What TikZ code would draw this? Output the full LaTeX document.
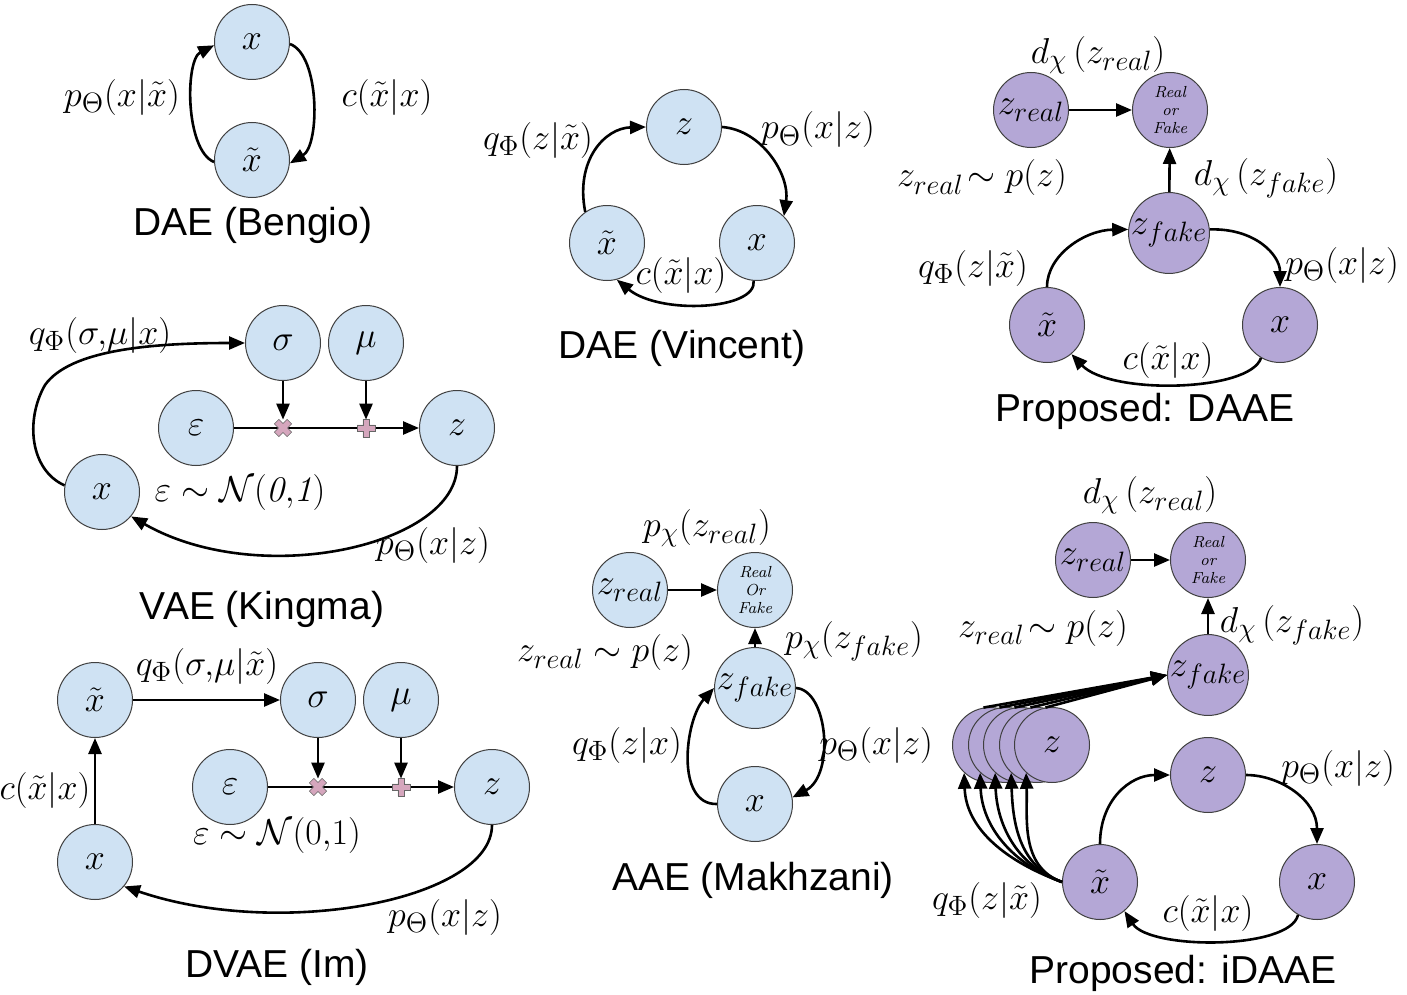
\RequirePackage{fix-cm}
\documentclass[tikz,border=0pt]{standalone}
\usepackage{amsmath}
\usepackage{fontspec}
\newfontfamily\titlefont{Liberation Sans}
\DeclareMathSizes{18}{18}{14}{11}
\usetikzlibrary{arrows.meta}
\definecolor{nodeblue}{RGB}{207,226,243}
\definecolor{nodepurple}{RGB}{180,167,214}
\definecolor{markpink}{RGB}{213,166,189}
\begin{document}
\begin{tikzpicture}[x=0.5pt,y=-0.5pt,
  bnode/.style={circle,draw=black!75,line width=0.5pt,fill=nodeblue,minimum size=37.5pt,inner sep=0pt,font=\fontsize{18}{21}\selectfont},
  pnode/.style={bnode,fill=nodepurple},
  rof/.style={font=\fontsize{8}{9}\selectfont\itshape,align=center},
  arr/.style={-{Triangle[length=8pt,width=6.5pt]},line width=1.3pt},
  lbl/.style={font=\fontsize{18}{21}\selectfont,inner sep=0pt},
  ttl/.style={font=\titlefont\fontsize{19.5}{22}\selectfont,inner sep=0pt},
  mpt/.style={inner sep=0pt,minimum size=8pt},
  plusshape/.pic={\filldraw[fill=markpink,draw=black!60,line width=0.3pt] (-9,-3.2) -- (-3.2,-3.2) -- (-3.2,-9) -- (3.2,-9) -- (3.2,-3.2) -- (9,-3.2) -- (9,3.2) -- (3.2,3.2) -- (3.2,9) -- (-3.2,9) -- (-3.2,3.2) -- (-9,3.2) -- cycle;}
]
\useasboundingbox (0,0) rectangle (1407,995);

% ---------- DAE (Bengio)
\node[bnode] (bx) at (252,42) {$x$};
\node[bnode] (bxt) at (252,160) {$\tilde{x}$};
\draw[arr] (bxt.183) .. controls (185,150) and (185,60) .. (bx.185);
\draw[arr] (bx.-3) .. controls (320,55) and (320,145) .. (bxt.-5);
\node[lbl] (bl1) at (122,97) {$p_\Theta(x|\tilde{x})$};
\node[lbl] (bl2) at (387,97) {$c(\tilde{x}|x)$};
\node[ttl] (bt) at (253,225) {DAE (Bengio)};

% ---------- DAE (Vincent)
\node[bnode] (vz) at (684,127) {$z$};
\node[bnode] (vxt) at (607,243) {$\tilde{x}$};
\node[bnode] (vx) at (757,243) {$x$};
\draw[arr] (vxt.125) .. controls (575,160) and (605,128) .. (vz.180);
\draw[arr] (vz.0) .. controls (762,130) and (790,175) .. (vx.45);
\draw[arr] (vx.-95) .. controls (757,310) and (660,315) .. (vxt.-75);
\node[lbl] (vl1) at (538,140) {$q_\Phi(z|\tilde{x})$};
\node[lbl] (vl2) at (818,130) {$p_\Theta(x|z)$};
\node[lbl] (vl3) at (681,275) {$c(\tilde{x}|x)$};
\node[ttl] (vt) at (682,348) {DAE (Vincent)};

% ---------- Proposed: DAAE
\node[pnode] (dzr) at (1031,110) {$z_{real}$};
\node[pnode,rof] (drf) at (1170,110) {Real\\or\\Fake};
\node[pnode] (dzf) at (1169,233) {$z_{fake}$};
\node[pnode] (dxt) at (1047,325) {$\tilde{x}$};
\node[pnode] (dx) at (1280,325) {$x$};
\draw[arr] (dzr) -- (drf);
\draw[arr] (dzf) -- (drf);
\draw[arr] (dxt.90) .. controls (1047,255) and (1085,230) .. (dzf.175);
\draw[arr] (dzf.5) .. controls (1255,228) and (1280,255) .. (dx.90);
\draw[arr] (dx.-120) .. controls (1250,392) and (1110,395) .. (dxt.-50);
\node[lbl] (dl1) at (1098,55) {$d_\chi\,(z_{real})$};
\node[lbl] (dl2) at (982,178) {$z_{real}\!\sim p(z)$};
\node[lbl] (dl3) at (1266,178) {$d_\chi\,(z_{fake})$};
\node[lbl] (dl4) at (973,268) {$q_\Phi(z|\tilde{x})$};
\node[lbl] (dl5) at (1342,265) {$p_\Theta(x|z)$};
\node[lbl] (dl6) at (1168,360) {$c(\tilde{x}|x)$};
\node[ttl] (dt) at (1145,411) {Proposed: DAAE};

% ---------- VAE (Kingma)
\node[bnode] (ks) at (283,343) {$\sigma$};
\node[bnode] (km) at (366,343) {$\mu$};
\node[bnode] (ke) at (196,428) {$\varepsilon$};
\node[bnode] (kz) at (457,428) {$z$};
\node[bnode] (kx) at (102,492) {$x$};
\node[mpt] (kmul) at (283,428) {};
\node[mpt] (kadd) at (366,428) {};
\draw[arr] (ke) -- (kz);
\pic[rotate=45] at (kmul) {plusshape};
\pic at (kadd) {plusshape};
\draw[arr] (ks) -- (kmul.north);
\draw[arr] (km) -- (kadd.north);
\draw[arr] (kx.170) .. controls (30,470) and (25,420) .. (45,385) .. controls (70,350) and (150,343) .. (ks.180);
\draw[arr] (kz.-90) .. controls (457,545) and (260,590) .. (kx.-40);
\node[lbl] (kl1) at (100,335) {$q_\Phi(\sigma,\!\mu|x)$};
\node[lbl] (kl2) at (240,492) {$\varepsilon\sim\mathcal{N}(\mathit{0{,}1})$};
\node[lbl] (kl3) at (433,545) {$p_\Theta(x|z)$};
\node[ttl] (kt) at (262,609) {VAE (Kingma)};

% ---------- DVAE (Im)
\node[bnode] (ixt2) at (95,700) {$\tilde{x}$};
\node[bnode] (is) at (318,700) {$\sigma$};
\node[bnode] (im) at (401,700) {$\mu$};
\node[bnode] (ie) at (230,787) {$\varepsilon$};
\node[bnode] (iz2) at (492,787) {$z$};
\node[bnode] (ix2) at (95,862) {$x$};
\node[mpt] (imul) at (318,787) {};
\node[mpt] (iadd) at (401,787) {};
\draw[arr] (ie) -- (iz2);
\pic[rotate=45] at (imul) {plusshape};
\pic at (iadd) {plusshape};
\draw[arr] (is) -- (imul.north);
\draw[arr] (im) -- (iadd.north);
\draw[arr] (ix2) -- (ixt2);
\draw[arr] (ixt2) -- (is);
\draw[arr] (iz2.-90) .. controls (492,900) and (280,940) .. (ix2.-40);
\node[lbl] (il1) at (207,666) {$q_\Phi(\sigma,\!\mu|\tilde{x})$};
\node[lbl] (il2) at (45,790) {$c(\tilde{x}|x)$};
\node[lbl] (il3) at (277,835) {$\varepsilon\sim\mathcal{N}(0{,}1)$};
\node[lbl] (il4) at (445,917) {$p_\Theta(x|z)$};
\node[ttl] (it) at (277,967) {DVAE (Im)};

% ---------- AAE (Makhzani)
\node[bnode] (azr) at (630,590) {$z_{real}$};
\node[bnode,rof] (arf) at (755,590) {Real\\Or\\Fake};
\node[bnode] (azf) at (755,688) {$z_{fake}$};
\node[bnode] (ax) at (755,804) {$x$};
\draw[arr] (azr) -- (arf);
\draw[arr] (azf) -- (arf);
\draw[arr] (ax.180) .. controls (675,805) and (685,720) .. (azf.180);
\draw[arr] (azf.0) .. controls (828,690) and (835,775) .. (ax.10);
\node[lbl] (al1) at (707,528) {$p_\chi(z_{real})$};
\node[lbl] (al2) at (605,652) {$z_{real}\sim p(z)$};
\node[lbl] (al3) at (854,641) {$p_\chi(z_{fake})$};
\node[lbl] (al4) at (627,745) {$q_\Phi(z|x)$};
\node[lbl] (al5) at (876,745) {$p_\Theta(x|z)$};
\node[ttl] (aat) at (753,880) {AAE (Makhzani)};

% ---------- Proposed: iDAAE
\node[pnode] (pzr) at (1093,560) {$z_{real}$};
\node[pnode,rof] (prf) at (1208,560) {Real\\or\\Fake};
\node[pnode] (pzf) at (1208,675) {$z_{fake}$};
\node[pnode] (s1) at (990,745) {};
\node[pnode] (s2) at (1006,745) {};
\node[pnode] (s3) at (1021,745) {};
\node[pnode] (s4) at (1037,745) {};
\node[pnode] (s5) at (1052,745) {$z$};
\node[pnode] (pz) at (1208,775) {$z$};
\node[pnode] (pxt) at (1100,882) {$\tilde{x}$};
\node[pnode] (px) at (1317,882) {$x$};
\draw[arr] (pzr) -- (prf);
\draw[arr] (pzf) -- (prf);
\foreach \s in {s1,s2,s3,s4,s5} {
  \draw[arr] (\s.100) -- (pzf.180);
  \draw[arr] (pxt.180) to[out=160,in=-88] (\s.227);
}
\draw[arr] (pxt.90) .. controls (1100,800) and (1130,775) .. (pz.180);
\draw[arr] (pz.0) .. controls (1280,775) and (1317,800) .. (px.90);
\draw[arr] (px.-120) .. controls (1290,950) and (1150,950) .. (pxt.-50);
\node[lbl] (pl1) at (1150,495) {$d_\chi\,(z_{real})$};
\node[lbl] (pl2) at (1043,628) {$z_{real}\!\sim p(z)$};
\node[lbl] (pl3) at (1292,625) {$d_\chi\,(z_{fake})$};
\node[lbl] (pl4) at (1338,768) {$p_\Theta(x|z)$};
\node[lbl] (pl5) at (987,900) {$q_\Phi(z|\tilde{x})$};
\node[lbl] (pl6) at (1208,913) {$c(\tilde{x}|x)$};
\node[ttl] (pt) at (1183,973) {Proposed: iDAAE};
\end{tikzpicture}
\end{document}
